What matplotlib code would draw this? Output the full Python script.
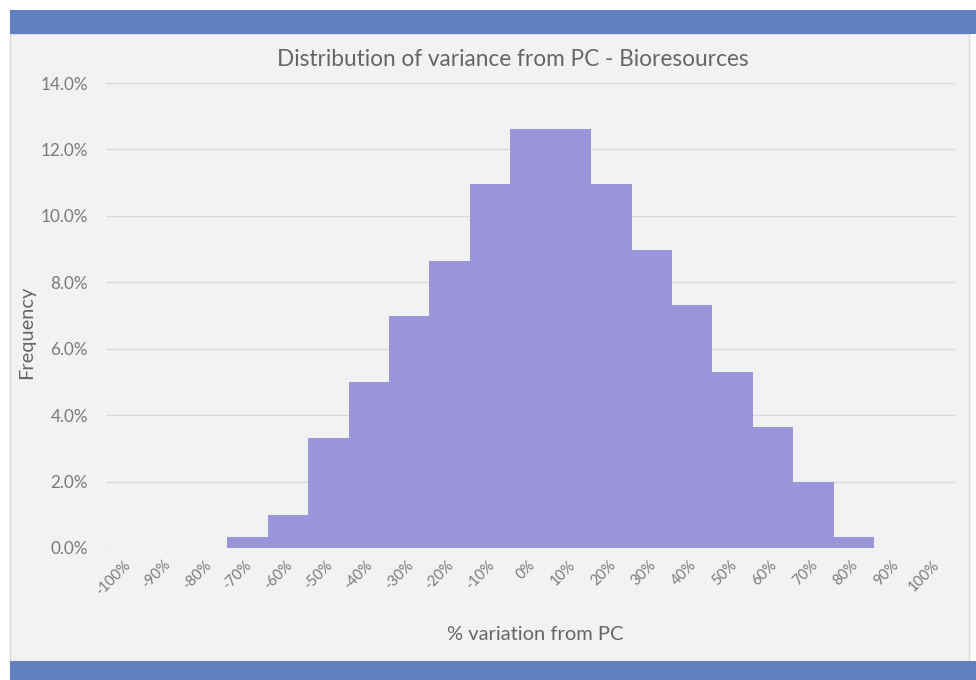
import matplotlib.pyplot as plt
from matplotlib.patches import Rectangle
from matplotlib.ticker import FuncFormatter
from matplotlib.transforms import ScaledTranslation

# bins of % variation from PC and their frequency (%)
bins = ["-100%", "-90%", "-80%", "-70%", "-60%", "-50%", "-40%", "-30%", "-20%", "-10%",
        "0%", "10%", "20%", "30%", "40%", "50%", "60%", "70%", "80%", "90%", "100%"]
freq = [0.0, 0.0, 0.0, 0.33, 1.0, 3.31, 5.0, 6.99, 8.64, 10.96,
        12.62, 12.62, 10.96, 8.98, 7.32, 5.3, 3.64, 1.99, 0.33, 0.0, 0.0]
y_ticks = [0, 2, 4, 6, 8, 10, 12, 14]

plt.rcParams['font.family'] = ['Lato', 'DejaVu Sans']

W, H = 976, 680
fig = plt.figure(figsize=(W / 100, H / 100), dpi=100)
fig.patch.set_facecolor('white')

# chart panel and blue bands
fig.add_artist(Rectangle((10 / W, 1 - 661 / H), 959 / W, 627 / H, transform=fig.transFigure,
                         facecolor='#f2f2f2', edgecolor='#d9d9d9', linewidth=1, zorder=0))
fig.add_artist(Rectangle((10 / W, 1 - 34 / H), 966 / W, 24 / H, transform=fig.transFigure,
                         facecolor='#6180bf', edgecolor='none', zorder=1))
fig.add_artist(Rectangle((10 / W, 0), 966 / W, 19 / H, transform=fig.transFigure,
                         facecolor='#6180bf', edgecolor='none', zorder=1))

ax = fig.add_axes([106 / W, 1 - 548 / H, 849 / W, 465 / H])
ax.set_facecolor('none')

x = range(len(bins))
ax.bar(x, freq, width=1.0, color='#9b95db', edgecolor='none', zorder=2)

ax.set_xlim(-0.5, len(bins) - 0.5)
ax.set_ylim(0, 14)
ax.set_yticks(y_ticks)
ax.yaxis.set_major_formatter(FuncFormatter(lambda v, p: f"{v:.1f}%"))
ax.grid(axis='y', color='#d9d9d9', linewidth=1, zorder=0)
ax.set_axisbelow(True)
for s in ax.spines.values():
    s.set_visible(False)
ax.tick_params(length=0, colors='#7a7a7a', labelsize=12.3)
ax.tick_params(axis='y', pad=13)

ax.set_xticks(list(x))
ax.set_xticklabels(bins, rotation=45, ha='right', va='top', fontsize=10.5, color='#7a7a7a')
ax.tick_params(axis='x', pad=7)
shift = ScaledTranslation(0.07, 0, fig.dpi_scale_trans)
for lbl in ax.get_xticklabels():
    lbl.set_transform(lbl.get_transform() + shift)

fig.text(513 / W, 1 - 60 / H, "Distribution of variance from PC - Bioresources",
         ha='center', va='center', fontsize=16.3, color='#666666')
fig.text(27 / W, 1 - 332 / H, "Frequency", rotation=90, ha='center', va='center',
         fontsize=14.4, color='#666666')
fig.text(535 / W, 1 - 634 / H, "% variation from PC", ha='center', va='center',
         fontsize=14.5, color='#666666')

fig.savefig("out.png", dpi=100, facecolor=fig.get_facecolor())
